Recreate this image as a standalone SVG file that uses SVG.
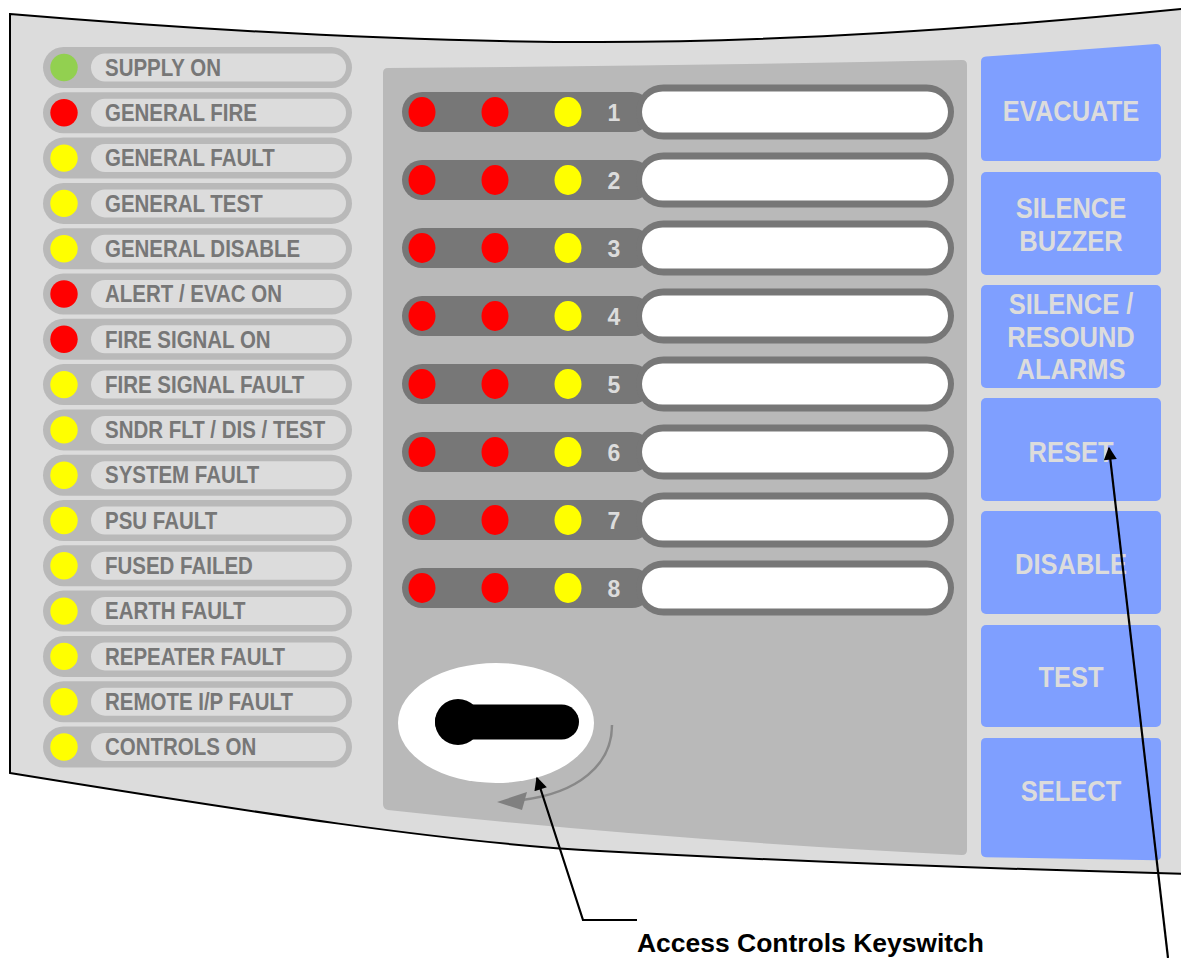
<svg xmlns="http://www.w3.org/2000/svg" width="1181" height="958" viewBox="0 0 1181 958">
<defs>
<style>
.pill{fill:#b9b9b9}
.pin{fill:#dcdcdc}
.lbl{font-family:"Liberation Sans",Arial,sans-serif;font-weight:bold;font-size:23px;fill:#777}
.red{fill:#ff0000}
.yel{fill:#ffff00}
.grn{fill:#92d050}
.strip{fill:#777}
.disp{fill:#fff}
.num{font-family:"Liberation Sans",Arial,sans-serif;font-weight:bold;font-size:23px;fill:#dcdcdc;text-anchor:middle}
.btn{fill:#7f9fff}
.btxt{font-family:"Liberation Sans",Arial,sans-serif;font-weight:bold;font-size:30px;fill:#dcdcdc;text-anchor:middle}
.lead{fill:none;stroke:#000;stroke-width:2.2}
</style>
<marker id="ah" viewBox="0 0 10 10" refX="9" refY="5" markerWidth="15" markerHeight="13" markerUnits="userSpaceOnUse" orient="auto">
<path d="M0,0 L10,5 L0,10 Z" fill="#000"/>
</marker>
<g id="led-row-shape">
<rect class="pill" x="43" y="-20.5" width="309" height="41" rx="20.5"/>
<rect class="pin" x="91" y="-14" width="255" height="28" rx="14"/>
</g>
<g id="zone-shape">
<rect class="strip" x="402" y="-20" width="250" height="40" rx="20"/>
<rect class="strip" x="636" y="-27.5" width="318" height="55" rx="27.5"/>
<rect class="disp" x="642" y="-20.5" width="306" height="41" rx="20.5"/>
<ellipse class="red" cx="422" cy="0" rx="13.5" ry="15"/>
<ellipse class="red" cx="495" cy="0" rx="13.5" ry="15"/>
<ellipse class="yel" cx="568" cy="0" rx="13.5" ry="15"/>
</g>
</defs>

<g id="panel">
<path d="M10,14 C200,30 400,42 600,42 C800,42 1000,27 1190,8 L1190,874 C1000,869 800,862 600,851 C450,843 250,812 10,773 Z" fill="#dcdcdc" stroke="#000" stroke-width="2"/>
</g>

<g id="indicators">
<g id="ind-1" transform="translate(0,67.5)"><use href="#led-row-shape"/><circle class="grn" cx="64" cy="0" r="13.7"/><text class="lbl" transform="translate(105,8.2) scale(0.89,1)">SUPPLY ON</text></g>
<g id="ind-2" transform="translate(0,112.8)"><use href="#led-row-shape"/><circle class="red" cx="64" cy="0" r="13.7"/><text class="lbl" transform="translate(105,8.2) scale(0.89,1)">GENERAL FIRE</text></g>
<g id="ind-3" transform="translate(0,158.1)"><use href="#led-row-shape"/><circle class="yel" cx="64" cy="0" r="13.7"/><text class="lbl" transform="translate(105,8.2) scale(0.89,1)">GENERAL FAULT</text></g>
<g id="ind-4" transform="translate(0,203.4)"><use href="#led-row-shape"/><circle class="yel" cx="64" cy="0" r="13.7"/><text class="lbl" transform="translate(105,8.2) scale(0.89,1)">GENERAL TEST</text></g>
<g id="ind-5" transform="translate(0,248.7)"><use href="#led-row-shape"/><circle class="yel" cx="64" cy="0" r="13.7"/><text class="lbl" transform="translate(105,8.2) scale(0.89,1)">GENERAL DISABLE</text></g>
<g id="ind-6" transform="translate(0,294)"><use href="#led-row-shape"/><circle class="red" cx="64" cy="0" r="13.7"/><text class="lbl" transform="translate(105,8.2) scale(0.89,1)">ALERT / EVAC ON</text></g>
<g id="ind-7" transform="translate(0,339.3)"><use href="#led-row-shape"/><circle class="red" cx="64" cy="0" r="13.7"/><text class="lbl" transform="translate(105,8.2) scale(0.89,1)">FIRE SIGNAL ON</text></g>
<g id="ind-8" transform="translate(0,384.6)"><use href="#led-row-shape"/><circle class="yel" cx="64" cy="0" r="13.7"/><text class="lbl" transform="translate(105,8.2) scale(0.89,1)">FIRE SIGNAL FAULT</text></g>
<g id="ind-9" transform="translate(0,429.9)"><use href="#led-row-shape"/><circle class="yel" cx="64" cy="0" r="13.7"/><text class="lbl" transform="translate(105,8.2) scale(0.89,1)">SNDR FLT / DIS / TEST</text></g>
<g id="ind-10" transform="translate(0,475.2)"><use href="#led-row-shape"/><circle class="yel" cx="64" cy="0" r="13.7"/><text class="lbl" transform="translate(105,8.2) scale(0.89,1)">SYSTEM FAULT</text></g>
<g id="ind-11" transform="translate(0,520.5)"><use href="#led-row-shape"/><circle class="yel" cx="64" cy="0" r="13.7"/><text class="lbl" transform="translate(105,8.2) scale(0.89,1)">PSU FAULT</text></g>
<g id="ind-12" transform="translate(0,565.8)"><use href="#led-row-shape"/><circle class="yel" cx="64" cy="0" r="13.7"/><text class="lbl" transform="translate(105,8.2) scale(0.89,1)">FUSED FAILED</text></g>
<g id="ind-13" transform="translate(0,611.1)"><use href="#led-row-shape"/><circle class="yel" cx="64" cy="0" r="13.7"/><text class="lbl" transform="translate(105,8.2) scale(0.89,1)">EARTH FAULT</text></g>
<g id="ind-14" transform="translate(0,656.4)"><use href="#led-row-shape"/><circle class="yel" cx="64" cy="0" r="13.7"/><text class="lbl" transform="translate(105,8.2) scale(0.89,1)">REPEATER FAULT</text></g>
<g id="ind-15" transform="translate(0,701.7)"><use href="#led-row-shape"/><circle class="yel" cx="64" cy="0" r="13.7"/><text class="lbl" transform="translate(105,8.2) scale(0.89,1)">REMOTE I/P FAULT</text></g>
<g id="ind-16" transform="translate(0,747)"><use href="#led-row-shape"/><circle class="yel" cx="64" cy="0" r="13.7"/><text class="lbl" transform="translate(105,8.2) scale(0.89,1)">CONTROLS ON</text></g>
</g>

<g id="zone-panel">
<path d="M383,73 Q383,68 388,68 Q680,66 962,60 Q967,60 967,65 L967,850 Q967,855 962,855 Q660,840 388,810 Q383,809 383,804 Z" fill="#b9b9b9"/>
</g>

<g id="zones">
<g id="zone-1" transform="translate(0,112)"><use href="#zone-shape"/><text class="num" x="614" y="8.5">1</text></g>
<g id="zone-2" transform="translate(0,180)"><use href="#zone-shape"/><text class="num" x="614" y="8.5">2</text></g>
<g id="zone-3" transform="translate(0,248)"><use href="#zone-shape"/><text class="num" x="614" y="8.5">3</text></g>
<g id="zone-4" transform="translate(0,316)"><use href="#zone-shape"/><text class="num" x="614" y="8.5">4</text></g>
<g id="zone-5" transform="translate(0,384)"><use href="#zone-shape"/><text class="num" x="614" y="8.5">5</text></g>
<g id="zone-6" transform="translate(0,452)"><use href="#zone-shape"/><text class="num" x="614" y="8.5">6</text></g>
<g id="zone-7" transform="translate(0,520)"><use href="#zone-shape"/><text class="num" x="614" y="8.5">7</text></g>
<g id="zone-8" transform="translate(0,588)"><use href="#zone-shape"/><text class="num" x="614" y="8.5">8</text></g>
</g>

<g id="keyswitch">
<ellipse cx="496" cy="723" rx="98" ry="60" fill="#fff"/>
<circle cx="458" cy="722" r="23" fill="#000"/>
<rect x="435" y="704.5" width="144" height="35" rx="17.5" fill="#000"/>
<path d="M612,725 C612,765 578,793 522,800" fill="none" stroke="#888" stroke-width="2.5"/>
<path d="M497,802 L527,792 L522,810 Z" fill="#808080"/>
</g>

<g id="buttons">
<g id="btn-evacuate"><path class="btn" d="M986,56.6 L1156,44 Q1161,44 1161,49 L1161,156 Q1161,161 1156,161 L986,161 Q981,161 981,156 L981,61.6 Q981,57 986,56.6 Z"/><text class="btxt" transform="translate(1071,121) scale(0.85,1)">EVACUATE</text></g>
<g id="btn-silence-buzzer"><rect class="btn" x="981" y="172" width="180" height="103" rx="5"/><text class="btxt" transform="translate(1071,218) scale(0.85,1)">SILENCE</text><text class="btxt" transform="translate(1071,251) scale(0.85,1)">BUZZER</text></g>
<g id="btn-silence-resound"><rect class="btn" x="981" y="285" width="180" height="103" rx="5"/><text class="btxt" transform="translate(1071,314) scale(0.85,1)">SILENCE /</text><text class="btxt" transform="translate(1071,347) scale(0.85,1)">RESOUND</text><text class="btxt" transform="translate(1071,379) scale(0.85,1)">ALARMS</text></g>
<g id="btn-reset"><rect class="btn" x="981" y="398" width="180" height="103" rx="5"/><text class="btxt" transform="translate(1071,462) scale(0.85,1)">RESET</text></g>
<g id="btn-disable"><rect class="btn" x="981" y="511" width="180" height="103" rx="5"/><text class="btxt" transform="translate(1071,574) scale(0.85,1)">DISABLE</text></g>
<g id="btn-test"><rect class="btn" x="981" y="625" width="180" height="102" rx="5"/><text class="btxt" transform="translate(1071,687) scale(0.85,1)">TEST</text></g>
<g id="btn-select"><path class="btn" d="M986,738 L1156,738 Q1161,738 1161,743 L1161,855.5 Q1161,860.5 1156,860.3 L986,857.2 Q981,857 981,852 L981,743 Q981,738 986,738 Z"/><text class="btxt" transform="translate(1071,801) scale(0.85,1)">SELECT</text></g>
</g>

<g id="connectors">
<path class="lead" d="M637,920 L583,920 L537,778" marker-end="url(#ah)"/>
<path class="lead" d="M1168,958 L1109,448" marker-end="url(#ah)"/>
</g>

<g id="callout">
<text x="637" y="952" font-family="Liberation Sans, Arial, sans-serif" font-weight="bold" font-size="25" fill="#000" textLength="347" lengthAdjust="spacingAndGlyphs">Access Controls Keyswitch</text>
</g>
</svg>
